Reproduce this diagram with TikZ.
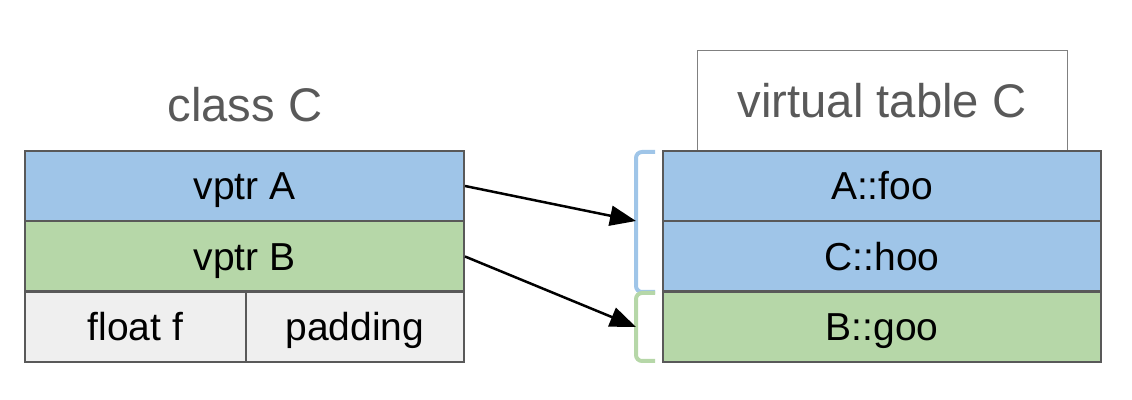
\documentclass[tikz,border=0pt]{standalone}
\usepackage{fontspec}
\setmainfont{Liberation Sans}
\usetikzlibrary{arrows.meta}
\definecolor{cellblue}{HTML}{9FC5E8}
\definecolor{cellgreen}{HTML}{B6D7A8}
\definecolor{cellgray}{HTML}{EFEFEF}
\definecolor{cellline}{HTML}{595959}
\definecolor{titlegray}{HTML}{595959}
\tikzset{
  cell/.style={draw=cellline, line width=1pt, inner sep=0pt, minimum height=35pt,
    text height=14pt, text depth=0pt, font=\fontsize{19.5}{23}\selectfont},
  title/.style={text=titlegray, inner sep=0pt, text height=16.9pt, text depth=0pt,
    font=\fontsize{23.6}{28}\selectfont},
  brace/.style={line width=2pt, rounded corners=3pt},
  ptr/.style={line width=1.25pt, -{Triangle[length=13pt, width=10pt]}}
}
\begin{document}
\begin{tikzpicture}[x=0.5pt,y=0.5pt]
\useasboundingbox (0,0) rectangle (1132,-400);
\node[title] (classC) at (245,-105) {class C};
\node[cell, fill=cellblue, minimum width=219.5pt] (vptrA) at (244.5,-186) {vptr A};
\node[cell, fill=cellgreen, minimum width=219.5pt] (vptrB) at (244.5,-256.5) {vptr B};
\node[cell, fill=cellgray, minimum width=110.5pt] (floatf) at (135.5,-327) {float f};
\node[cell, fill=cellgray, minimum width=109pt] (padding) at (355,-327) {padding};
\node[draw=black!50, line width=0.5pt, minimum width=185pt, minimum height=50pt, inner sep=0pt] (vtbox) at (882,-101) {};
\node[title] (vtC) at (vtbox) {virtual table C};
\node[cell, fill=cellblue, minimum width=219pt] (foo) at (882,-186) {A::foo};
\node[cell, fill=cellblue, minimum width=219pt] (hoo) at (882,-256.5) {C::hoo};
\node[cell, fill=cellgreen, minimum width=219pt] (goo) at (882,-327) {B::goo};
\coordinate (brA) at (636,-221);
\coordinate (brB) at (636,-327);
\draw[brace, cellblue] (655,-152) -- (636,-152) -- (636,-292) -- (655,-292);
\draw[brace, cellgreen] (655,-293) -- (636,-293) -- (636,-361) -- (655,-361);
\draw[ptr] (vptrA.east) -- (brA);
\draw[ptr] (vptrB.east) -- (brB);
\end{tikzpicture}
\end{document}
